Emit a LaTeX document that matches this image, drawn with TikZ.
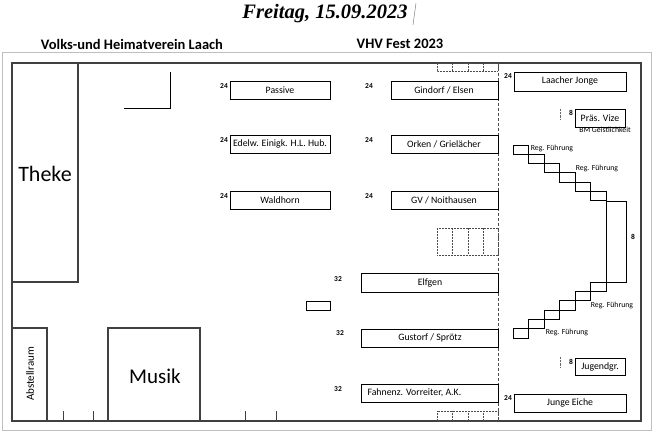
\documentclass[tikz,border=0pt]{standalone}
\usepackage{fontspec}
\setmainfont{Carlito}
\newfontfamily\titlefont{Liberation Serif}
\begin{document}
\begin{tikzpicture}[x=1pt,y=-1pt,
  wall/.style={draw=black!75,line width=1.1pt},
  tbl/.style={draw=black,line width=0.8pt},
  dbox/.style={draw=black!70,densely dotted,line width=0.5pt},
  lbl/.style={font=\fontsize{9.8}{10}\selectfont},
  num/.style={font=\bfseries\fontsize{7.5}{8}\selectfont},
  tiny/.style={font=\fontsize{7.8}{8}\selectfont}]
\useasboundingbox (0,0) rectangle (657,433);
\fill[white] (0,0) rectangle (657,433);
% title
\node (title) at (325,14) {\titlefont\bfseries\itshape\fontsize{20.5}{22}\selectfont Freitag, 15.09.2023};
\draw[black!60,line width=0.4pt] (413,25) -- (416,3);
\node (h1) at (132,44) {\bfseries\fontsize{14.5}{16}\selectfont Volks-und Heimatverein Laach};
\node (h2) at (400,44) {\bfseries\fontsize{14.5}{16}\selectfont VHV Fest 2023};
\draw[black!25,line width=0.8pt] (2,52) rectangle (651,430);
% outer walls
\draw[wall] (12,63) rectangle (641,421);
\draw[black!70,densely dashed,line width=0.6pt] (498,63) -- (498,421);
% Theke
\draw[wall] (12,63) rectangle (78,282);
\node (theke) at (45,174) {\fontsize{22}{24}\selectfont Theke};
\draw[tbl] (170,72) -- (170,108) -- (124,108);
% Abstellraum, Musik
\draw[wall] (12,328) rectangle (47,421);
\node[rotate=90] (abst) at (30,374) {\fontsize{11}{12}\selectfont Abstellraum};
\draw[wall] (108,328) rectangle (200,421);
\node (musik) at (155,376) {\fontsize{21}{23}\selectfont Musik};
\foreach \x in {63,93,245,276} \draw[black!75,line width=0.8pt] (\x,411) -- (\x,421);
% dotted table groups
\foreach \ya/\yb in {63/71,228/255,411/421}{
  \draw[dbox] (437,\ya) rectangle (498,\yb);
  \foreach \x in {452,468,483} \draw[dbox] (\x,\ya) -- (\x,\yb);
}
% left column tables
\foreach \y/\t/\n in {81/Passive/p,135/{Edelw. Einigk. H.L. Hub.}/e,191/Waldhorn/w}{
  \draw[tbl] (230,\y) rectangle (330,\y+18);
  \node[lbl] (\n) at (280,\y+9) {\t};
  \node[num] at (224,\y+5) {24};
}
\foreach \y/\t/\n in {81/{Gindorf / Elsen}/g,135/{Orken / Grielächer}/o,191/{GV / Noithausen}/gv}{
  \draw[tbl] (391,\y) rectangle (498,\y+18);
  \node[lbl] (\n) at (444,\y+9) {\t};
  \node[num] at (369,\y+5) {24};
}
\draw[tbl] (361,273) rectangle (498,292);
\node[lbl] (elf) at (430,283) {Elfgen};
\node[num] at (338,279) {32};
\draw[tbl] (306,301) rectangle (330,310);
\draw[tbl] (361,329) rectangle (498,347);
\node[lbl] (gus) at (430,338) {Gustorf / Sprötz};
\node[num] at (340,333) {32};
\draw[tbl] (361,384) rectangle (498,402);
\node[lbl,anchor=west] (fah) at (364,393) {Fahnenz. Vorreiter, A.K.};
\node[num] at (338,389) {32};
% right side
\draw[tbl] (514,72) rectangle (626,91);
\node[lbl] (lj) at (570,81) {Laacher Jonge};
\node[num] at (508,76) {24};
\draw[tbl] (575,109) rectangle (625,127);
\node[lbl] (pv) at (600,118) {Präs. Vize};
\node[num] at (571,113) {8};
\draw[black!60,densely dotted] (560,109) -- (560,120);
\node[tiny] (bm) at (605,130) {BM Geistlichkeit};
\draw[tbl] (575,358) rectangle (625,375);
\node[lbl] (jg) at (600,367) {Jugendgr.};
\node[num] at (571,362) {8};
\draw[black!60,densely dotted] (560,357) -- (560,367);
\draw[tbl] (514,394) rectangle (626,412);
\node[lbl] (je) at (570,403) {Junge Eiche};
\node[num] at (508,398) {24};
% stairs
\foreach \i in {0,...,5}{
  \draw[tbl] (513+15.5*\i,145+9.3*\i) rectangle ++(15.5,9.3);
  \draw[tbl] (513+15.5*\i,338-9.3*\i) rectangle ++(15.5,-9.3);
}
\draw[tbl] (606,191) -- (606,292);
\draw[tbl] (606,201) rectangle (626,282);
\node[num] at (633,237) {8};
\node[tiny] (r1) at (552,148) {Reg. Führung};
\node[tiny] (r2) at (597,168) {Reg. Führung};
\node[tiny] (r3) at (612,305) {Reg. Führung};
\node[tiny] (r4) at (567,332) {Reg. Führung};
\end{tikzpicture}
\end{document}
